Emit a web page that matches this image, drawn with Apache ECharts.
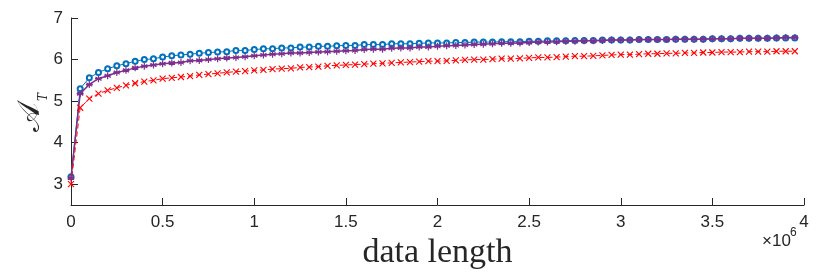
<!DOCTYPE html>
<html><head><meta charset="utf-8">
<script src="https://cdn.jsdelivr.net/npm/echarts@6/dist/echarts.min.js"></script>
<style>html,body{margin:0;padding:0;background:#fff}#c{width:830px;height:278px}</style>
</head><body><div id="c"></div>
<script>
const xStep = 50000;
const blueVals = [3.18,5.30,5.56,5.69,5.78,5.85,5.90,5.96,6.00,6.02,6.06,6.09,6.11,6.13,6.15,6.17,6.18,6.19,6.22,6.22,
6.24,6.26,6.26,6.28,6.28,6.30,6.30,6.32,6.32,6.33,6.34,6.34,6.36,6.36,6.36,6.38,6.38,6.38,6.39,6.40,
6.40,6.40,6.41,6.41,6.42,6.42,6.42,6.43,6.43,6.43,6.44,6.44,6.45,6.45,6.45,6.46,6.46,6.46,6.47,6.47,
6.47,6.47,6.48,6.48,6.48,6.48,6.49,6.49,6.49,6.49,6.50,6.50,6.50,6.51,6.51,6.51,6.51,6.52,6.52,6.52];
const purpleVals = [3.15,5.18,5.40,5.54,5.61,5.69,5.74,5.80,5.84,5.87,5.90,5.92,5.93,5.97,5.98,6.00,6.02,6.04,6.05,6.07,
6.09,6.11,6.13,6.14,6.16,6.16,6.17,6.18,6.19,6.20,6.21,6.22,6.24,6.25,6.25,6.27,6.28,6.28,6.30,6.30,
6.32,6.33,6.34,6.35,6.36,6.37,6.38,6.39,6.39,6.40,6.41,6.42,6.42,6.43,6.44,6.44,6.45,6.45,6.46,6.47,
6.47,6.47,6.48,6.48,6.48,6.48,6.49,6.49,6.49,6.49,6.50,6.50,6.50,6.51,6.51,6.51,6.51,6.52,6.53,6.53];
const redVals = [3.00,4.84,5.06,5.18,5.26,5.32,5.38,5.43,5.47,5.50,5.54,5.56,5.58,5.60,5.63,5.65,5.67,5.69,5.71,5.72,
5.74,5.75,5.77,5.78,5.79,5.81,5.82,5.83,5.85,5.86,5.87,5.88,5.89,5.90,5.91,5.92,5.93,5.94,5.95,5.96,
5.96,5.97,5.98,5.99,6.00,6.00,6.01,6.02,6.02,6.03,6.04,6.05,6.05,6.06,6.07,6.08,6.08,6.09,6.10,6.11,
6.12,6.12,6.13,6.14,6.14,6.15,6.15,6.16,6.16,6.17,6.17,6.18,6.18,6.18,6.19,6.19,6.19,6.20,6.20,6.20];
const xVals = blueVals.map((_, i) => i * xStep);
const yTicks = [3, 4, 5, 6, 7];
const xTickLabels = ['0','0.5','1','1.5','2','2.5','3','3.5','4'];

const pair = v => v.map((y, i) => [xVals[i], y]);
const axisCol = '#262626';
const chart = echarts.init(document.getElementById('c'), null, {renderer: 'canvas'});
chart.setOption({
  animation: false,
  grid: {left: 71, right: 26, top: 18, bottom: 73, containLabel: false},
  xAxis: {
    type: 'value', min: 0, max: 4000000, interval: 500000,
    name: 'data length', nameLocation: 'middle', nameGap: 20,
    nameTextStyle: {fontFamily: 'Liberation Serif', fontSize: 34, color: '#262626'},
    axisLine: {show: true, lineStyle: {color: axisCol, width: 1}},
    axisTick: {show: true, inside: true, length: 7, lineStyle: {color: axisCol}},
    axisLabel: {color: axisCol, fontFamily: 'Liberation Sans', fontSize: 17, margin: 9,
      formatter: v => xTickLabels[Math.round(v / 500000)]},
    splitLine: {show: false}
  },
  yAxis: {
    type: 'value', min: 2.5, max: 7,
    axisLine: {show: true, lineStyle: {color: axisCol, width: 1}},
    axisTick: {show: true, inside: true, length: 7, lineStyle: {color: axisCol}, customValues: yTicks},
    axisLabel: {color: axisCol, fontFamily: 'Liberation Sans', fontSize: 17, margin: 8, customValues: yTicks},
    splitLine: {show: false}
  },
  graphic: [{
    type: 'text', x: 31, y: 117, rotation: Math.PI / 2,
    style: {text: '𝒜', align: 'center', verticalAlign: 'middle',
      font: '31px "DejaVu Serif"', fill: '#262626'}
  }, {
    type: 'text', x: 44, y: 97, rotation: Math.PI / 2,
    style: {text: 'T', align: 'center', verticalAlign: 'middle',
      font: 'italic 12px "DejaVu Serif"', fill: '#262626'}
  }, {
    type: 'text', x: 762, y: 241,
    style: {text: '×10', align: 'left', verticalAlign: 'middle',
      font: '17px "Liberation Sans"', fill: '#262626'}
  }, {
    type: 'text', x: 790, y: 233,
    style: {text: '6', align: 'left', verticalAlign: 'middle',
      font: '12px "Liberation Sans"', fill: '#262626'}
  }],
  series: [
    {type: 'line', data: pair(blueVals), symbol: 'emptyCircle', symbolSize: 5,
     lineStyle: {color: '#0072BD', width: 1}, itemStyle: {color: '#0072BD', borderWidth: 0.9}, z: 2},
    {type: 'line', data: pair(purpleVals),
     symbol: 'path://M0,-1L0,1M-0.87,-0.5L0.87,0.5M-0.87,0.5L0.87,-0.5M-1,0L1,0', symbolSize: 7,
     lineStyle: {color: '#7E2F8E', width: 1.5}, itemStyle: {color: '#7E2F8E', borderColor: '#7E2F8E', borderWidth: 1.2}, z: 3},
    {type: 'line', data: pair(redVals),
     symbol: 'path://M-1,-1L1,1M-1,1L1,-1', symbolSize: 6,
     lineStyle: {color: '#FF0000', width: 1, type: [5, 3]}, itemStyle: {color: '#FF0000', borderColor: '#FF0000', borderWidth: 1.1}, z: 4}
  ]
});
</script></body></html>
